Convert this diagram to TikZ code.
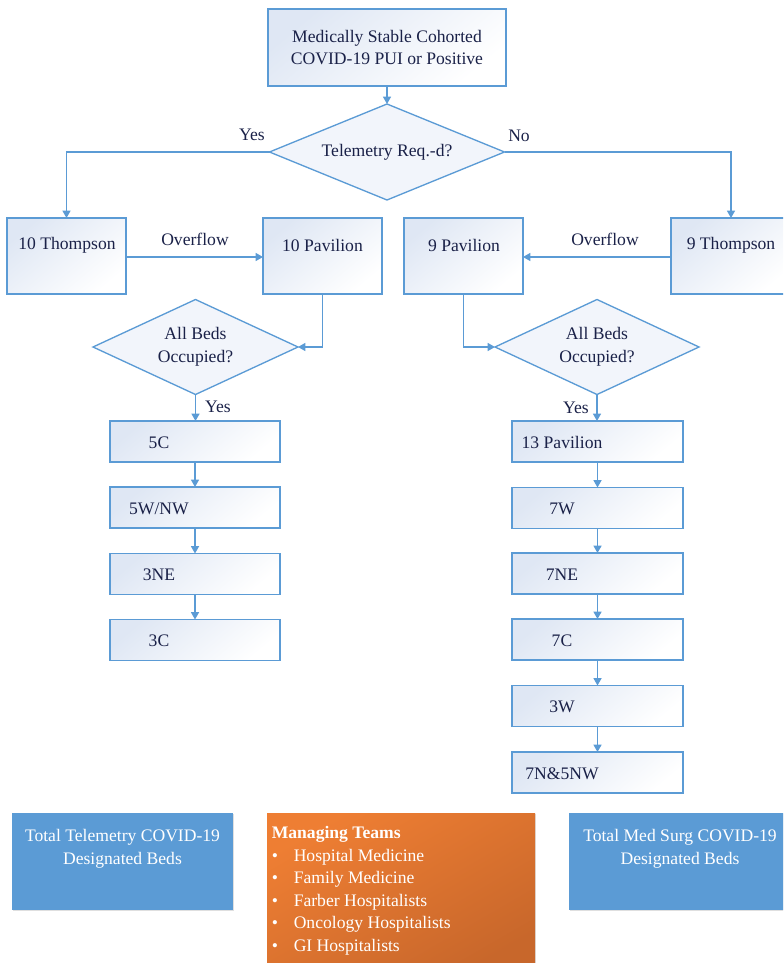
\documentclass[tikz,border=0pt]{standalone}
\usepackage{fontspec}
\setmainfont{Liberation Serif}
\usetikzlibrary{shapes.geometric,arrows.meta,calc,shadows}

\definecolor{edge}{HTML}{5B9BD5}
\definecolor{boxtop}{HTML}{DFE7F4}
\definecolor{ink}{HTML}{1A2148}
\definecolor{panel}{HTML}{5B9BD5}
\definecolor{orangeA}{HTML}{EE7E33}
\definecolor{orangeB}{HTML}{C8672B}

\tikzset{
  base/.style={draw=edge, line width=1.1pt, inner sep=0pt, outer sep=0pt,
    shading=axis, top color=boxtop, bottom color=white, shading angle=40},
  stepbox/.style={base, rectangle},
  choice/.style={draw=edge, line width=1pt, inner sep=0pt, outer sep=0pt,
    shape=diamond, fill=boxtop!40},
  txt/.style={text=ink, font=\fontsize{13.2}{17}\selectfont, inner sep=0pt, align=center},
  panelbox/.style={rectangle, fill=panel, draw=none, inner sep=0pt,
    drop shadow={shadow xshift=1pt, shadow yshift=-1pt, opacity=0.25}},
  paneltxt/.style={text=white, font=\fontsize{13.2}{17}\selectfont, inner sep=0pt, align=center},
  arr/.style={draw=edge, line width=1pt, -{Triangle[width=6pt,length=5.5pt]}},
}

\begin{document}
\begin{tikzpicture}[x=0.75pt, y=-0.75pt]
\useasboundingbox (0,0) rectangle (783,963);
\clip (0,0) rectangle (783,963);

% start box and first decision
\node[stepbox, minimum width=178.5pt, minimum height=57.75pt] (start) at (387,47.5) {};
\node[txt] (startT) at (387,47.5) {Medically Stable Cohorted\\COVID-19 PUI or Positive};
\node[choice, minimum width=176.25pt, minimum height=72pt] (tele) at (387,152) {};
\node[txt] (teleT) at (387,152) {Telemetry Req.-d?};

% first-choice units
\node[stepbox, minimum width=89.25pt, minimum height=57pt] (t10) at (66.5,256) {};
\node[stepbox, minimum width=89.25pt, minimum height=57pt] (p10) at (322.5,256) {};
\node[stepbox, minimum width=89.25pt, minimum height=57pt] (p9) at (463.5,256) {};
\node[stepbox, minimum width=90pt, minimum height=57pt] (t9) at (731,256) {};
\node[txt] (t10T) at (67,245) {10 Thompson};
\node[txt] (p10T) at (322.5,245) {10 Pavilion};
\node[txt] (p9T) at (464,245) {9 Pavilion};
\node[txt] (t9T) at (731,245) {9 Thompson};

% occupancy decisions
\node[choice, minimum width=153.75pt, minimum height=71.25pt] (occL) at (195.5,347) {};
\node[txt] (occLT) at (195.5,347) {All Beds\\Occupied?};
\node[choice, minimum width=153pt, minimum height=71.25pt] (occR) at (597,347) {};
\node[txt] (occRT) at (597,347) {All Beds\\Occupied?};

% telemetry overflow chain
\foreach \n/\y/\t in {L1/441.5/5C, L2/507.5/{5W/NW}, L3/574/3NE, L4/640/3C}{
  \node[stepbox, minimum width=127.5pt, minimum height=30.75pt] (\n) at (195,\y) {};
  \node[txt] (\n T) at (159,\y+1) {\t};
}
% med surg overflow chain
\foreach \n/\y/\t in {R1/441.5/13 Pavilion, R2/508/7W, R3/573.5/7NE, R4/639.5/7C, R5/706/3W, R6/772.5/7N\&5NW}{
  \node[stepbox, minimum width=128.25pt, minimum height=30.75pt] (\n) at (597.5,\y) {};
  \node[txt] (\n T) at (562,\y+1) {\t};
}

% connectors
\draw[arr] (start.south) -- (tele.north);
\draw[arr] (tele.west) -| (t10.north);
\draw[arr] (tele.east) -| (t9.north);
\draw[arr] (t10.east |- 0,257) -- (p10.west |- 0,257);
\draw[arr] (t9.west |- 0,257) -- (p9.east |- 0,257);
\draw[arr] (p10.south) |- (occL.east);
\draw[arr] (p9.south) |- (occR.west);
\draw[arr] (occL.south) -- (occL.south |- L1.north);
\draw[arr] (occR.south) -- (occR.south |- R1.north);
\draw[arr] (L1) -- (L2);
\draw[arr] (L2) -- (L3);
\draw[arr] (L3) -- (L4);
\draw[arr] (R1) -- (R2);
\draw[arr] (R2) -- (R3);
\draw[arr] (R3) -- (R4);
\draw[arr] (R4) -- (R5);
\draw[arr] (R5) -- (R6);

% branch labels
\node[txt] (yesTop) at (252,135) {Yes};
\node[txt] (noTop) at (519,136) {No};
\node[txt] (ovL) at (195,239) {Overflow};
\node[txt] (ovR) at (605,239) {Overflow};
\node[txt] (yesL) at (218,407) {Yes};
\node[txt] (yesR) at (576,408) {Yes};

% summary panels
\node[panelbox, minimum width=165.75pt, minimum height=72.75pt] (totTele) at (122.5,861.5) {};
\node[paneltxt] (totTeleT) at (122.5,849) {Total Telemetry COVID-19\\Designated Beds};
\node[panelbox, minimum width=165.75pt, minimum height=72.75pt] (totMed) at (679.5,861.5) {};
\node[paneltxt] (totMedT) at (680,849) {Total Med Surg COVID-19\\Designated Beds};

\node[rectangle, inner sep=0pt, minimum width=201pt, minimum height=121.5pt,
      shading=axis, top color=orangeA, bottom color=orangeB, shading angle=30,
      drop shadow={shadow xshift=1pt, shadow yshift=-1pt, opacity=0.25}]
      (teams) at (401,894) {};
\node[anchor=north west, text=white, inner sep=0pt, align=left,
      font=\fontsize{13.2}{16.9}\selectfont] (teamsT) at (271.5,826)
  {\textbf{Managing Teams}\\
   \makebox[16.5pt][l]{\textbullet}Hospital Medicine\\
   \makebox[16.5pt][l]{\textbullet}Family Medicine\\
   \makebox[16.5pt][l]{\textbullet}Farber Hospitalists\\
   \makebox[16.5pt][l]{\textbullet}Oncology Hospitalists\\
   \makebox[16.5pt][l]{\textbullet}GI Hospitalists};
\end{tikzpicture}
\end{document}
